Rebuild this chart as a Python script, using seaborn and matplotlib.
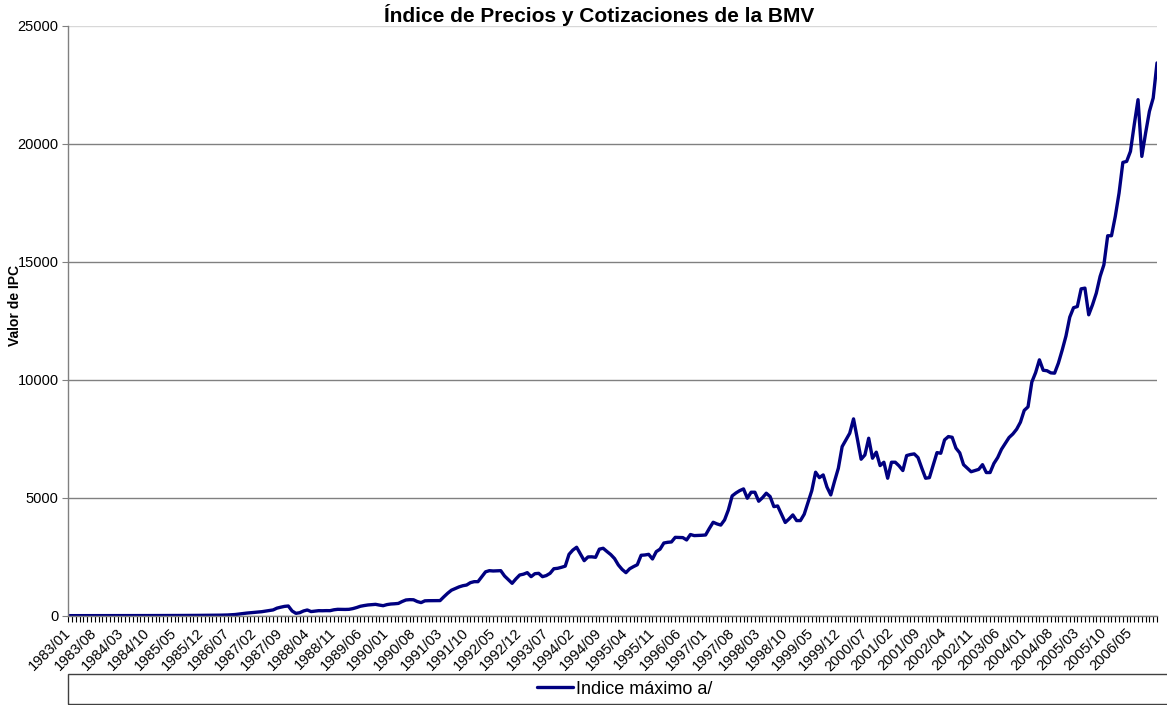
import numpy as np
import pandas as pd
import matplotlib
matplotlib.use("Agg")
import matplotlib.pyplot as plt
from matplotlib.patches import Rectangle
import seaborn as sns

# Monthly maximum of the IPC (BMV), 1983/01 - 2006/12
ipc_1983 = [2, 2, 2, 3, 3, 3, 3, 3, 3, 4, 4, 4]
ipc_1984 = [4, 5, 5, 5, 5, 5, 5, 6, 6, 6, 6, 7]
ipc_1985 = [7, 7, 8, 8, 8, 9, 9, 10, 11, 12, 13, 14]
ipc_1986 = [15, 16, 18, 20, 22, 25, 30, 38, 50, 72, 90, 110]
ipc_1987 = [125, 140, 155, 170, 195, 220, 245, 320, 360, 395, 411, 200]
ipc_1988 = [100, 127, 200, 242, 175, 195, 213, 210, 215, 213, 250, 270]
ipc_1989 = [268, 265, 270, 300, 345, 400, 430, 455, 470, 481, 450, 424]
ipc_1990 = [470, 495, 505, 520, 600, 666, 680, 675, 600, 555, 630, 636]
ipc_1991 = [636, 638, 640, 800, 950, 1080, 1150, 1220, 1270, 1300, 1400, 1442]
ipc_1992 = [1442, 1650, 1860, 1908, 1895, 1900, 1908, 1683, 1530, 1372, 1560, 1725]
ipc_1993 = [1760, 1824, 1654, 1780, 1795, 1654, 1700, 1795, 1990, 2008, 2050, 2100]
ipc_1994 = [2600, 2780, 2900, 2620, 2332, 2490, 2495, 2474, 2820, 2857, 2720, 2590]
ipc_1995 = [2420, 2150, 1960, 1824, 1990, 2080, 2160, 2560, 2573, 2600, 2403, 2715]
ipc_1996 = [2820, 3080, 3110, 3125, 3320, 3315, 3309, 3210, 3440, 3394, 3400, 3408]
ipc_1997 = [3420, 3700, 3960, 3890, 3840, 4058, 4480, 5075, 5200, 5300, 5372, 4977]
ipc_1998 = [5232, 5232, 4850, 5000, 5190, 5050, 4622, 4650, 4300, 3950, 4100, 4270]
ipc_1999 = [4030, 4030, 4300, 4800, 5300, 6080, 5850, 5965, 5450, 5118, 5700, 6250]
ipc_2000 = [7166, 7450, 7733, 8340, 7500, 6630, 6813, 7520, 6673, 6928, 6360, 6503]
ipc_2001 = [5825, 6503, 6503, 6350, 6150, 6785, 6830, 6856, 6700, 6250, 5825, 5850]
ipc_2002 = [6380, 6911, 6883, 7450, 7590, 7560, 7100, 6900, 6400, 6250, 6100, 6150]
ipc_2003 = [6200, 6400, 6066, 6066, 6450, 6700, 7050, 7300, 7550, 7700, 7902, 8200]
ipc_2004 = [8700, 8850, 9900, 10300, 10842, 10400, 10380, 10290, 10277, 10700, 11250, 11850]
ipc_2005 = [12650, 13050, 13100, 13850, 13880, 12750, 13173, 13670, 14374, 14870, 16100, 16100]
ipc_2006 = [16918, 17910, 19207, 19250, 19674, 20806, 21866, 19462, 20454, 21370, 21937, 23422]

years = list(range(1983, 2007))
months = list(range(1, 13))
y_ticks = [0, 5000, 10000, 15000, 20000, 25000]

valores = (ipc_1983 + ipc_1984 + ipc_1985 + ipc_1986 + ipc_1987 + ipc_1988
           + ipc_1989 + ipc_1990 + ipc_1991 + ipc_1992 + ipc_1993 + ipc_1994
           + ipc_1995 + ipc_1996 + ipc_1997 + ipc_1998 + ipc_1999 + ipc_2000
           + ipc_2001 + ipc_2002 + ipc_2003 + ipc_2004 + ipc_2005 + ipc_2006)
periodos = [f"{y}/{m:02d}" for y in years for m in months]

df = pd.DataFrame({"pos": np.arange(len(periodos)), "periodo": periodos, "valor": valores})

sns.set_style("white")
plt.rcParams["font.family"] = ["Liberation Sans", "DejaVu Sans"]
plt.rcParams["text.color"] = "black"
plt.rcParams["axes.labelcolor"] = "black"
plt.rcParams["xtick.color"] = "black"
plt.rcParams["ytick.color"] = "black"

W, H = 1167, 705
fig = plt.figure(figsize=(W / 100, H / 100), dpi=100)
left, right, top, bottom = 68.3, 1157, 25.7, 615.7
ax = fig.add_axes([left / W, 1 - bottom / H, (right - left) / W, (bottom - top) / H])

sns.lineplot(data=df, x="pos", y="valor", ax=ax, color="#000080",
             linewidth=2.4, label="Indice máximo a/")

ax.set_xlim(0, len(periodos) - 1)
ax.set_ylim(0, 25000)
ax.set_yticks(y_ticks)
ax.set_yticklabels([str(v) for v in y_ticks], fontsize=10.5)

# every month gets a tick, every 7th month a label (last one left out, as in the original)
etiquetas = df.iloc[:-7:7]
ax.set_xticks(etiquetas["pos"])
ax.set_xticklabels(etiquetas["periodo"], rotation=45, ha="right", va="center",
                   rotation_mode="anchor", fontsize=10.5)
ax.set_xticks(df["pos"], minor=True)
ax.tick_params(axis="x", which="both", direction="out", length=4, width=0.8,
               color="#000000", bottom=True, pad=7)
ax.tick_params(axis="y", direction="out", length=4, width=0.8, color="#808080",
               left=True, pad=3)

ax.yaxis.grid(True, color="#808080", linewidth=1)
ax.xaxis.grid(False)
ax.get_ygridlines()[-1].set_color("#d8d8d8")
for side in ["top", "right"]:
    ax.spines[side].set_visible(False)
for side in ["left", "bottom"]:
    ax.spines[side].set_color("#808080")
    ax.spines[side].set_linewidth(1)

ax.set_xlabel("")
ax.set_ylabel("Valor de IPC", fontsize=10, fontweight="bold")
ax.yaxis.set_label_coords((22 - left) / (right - left), (bottom - 306) / (bottom - top))
ax.set_title("Índice de Precios y Cotizaciones de la BMV", fontsize=15,
             fontweight="bold", x=(599 - left) / (right - left), pad=3)

# legend box along the bottom
fig.patches.append(Rectangle((left / W, 1 - 704 / H), 1.1, 30 / H,
                             transform=fig.transFigure, fill=False,
                             edgecolor="#404040", linewidth=1))
ax.legend(loc="center", bbox_to_anchor=(625 / W, 1 - 689 / H),
          bbox_transform=fig.transFigure, frameon=False, fontsize=13,
          handlelength=1.95, handletextpad=0.2)

fig.savefig("out.png", dpi=100)
